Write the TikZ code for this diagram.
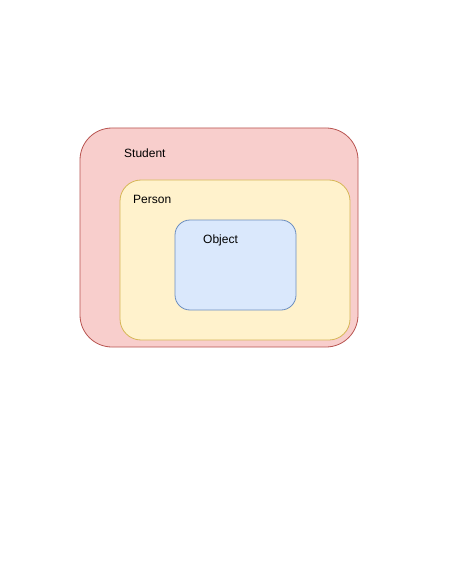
\documentclass[tikz,border=0pt]{standalone}
\usepackage{fontspec}
\setmainfont{Liberation Sans}
\definecolor{redfill}{HTML}{F8CECC}
\definecolor{redline}{HTML}{B85450}
\definecolor{yelfill}{HTML}{FFF2CC}
\definecolor{yelline}{HTML}{D6B656}
\definecolor{bluefill}{HTML}{DAE8FC}
\definecolor{blueline}{HTML}{6C8EBF}
\begin{document}
\begin{tikzpicture}[x=1pt,y=-1pt,
  box/.style={line width=0.8pt},
  lbl/.style={inner sep=0pt,anchor=west,font=\fontsize{12}{14}\selectfont}]
\useasboundingbox (0,0) rectangle (459,561);
\fill[white] (0,0) rectangle (459,561);
\draw[box,fill=redfill,draw=redline,rounded corners=32pt] (80,128) rectangle (358,347);
\node[coordinate] (student) at (80,128) {};
\draw[box,fill=yelfill,draw=yelline,rounded corners=21pt] (120,180) rectangle (350,340);
\node[coordinate] (person) at (120,180) {};
\draw[box,fill=bluefill,draw=blueline,rounded corners=15pt] (175,220) rectangle (296,310);
\node[coordinate] (object) at (175,220) {};
\node[lbl] (tstudent) at (124,153) {Student};
\node[lbl] (tperson) at (133,199) {Person};
\node[lbl] (tobject) at (203,240) {Object};
\end{tikzpicture}
\end{document}
